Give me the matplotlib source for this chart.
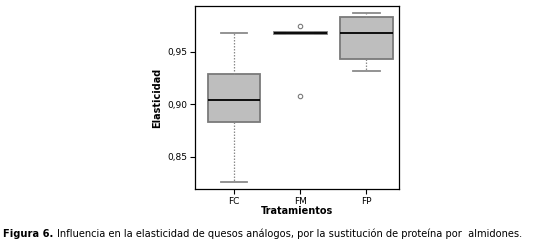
import matplotlib
matplotlib.use('Agg')
import matplotlib.pyplot as plt
from matplotlib.ticker import FuncFormatter

# Boxplot statistics
tratamientos = ['FC', 'FM', 'FP']
whis_low = [0.826, 0.967, 0.932]
q1 = [0.883, 0.967, 0.943]
median = [0.904, 0.968, 0.968]
q3 = [0.929, 0.969, 0.983]
whis_high = [0.968, 0.969, 0.987]
fliers = [[], [0.975, 0.908], []]

plt.rcParams['font.family'] = 'DejaVu Sans'

fig = plt.figure(figsize=(5.57, 2.48), dpi=100)
ax = fig.add_axes([0.350, 0.238, 0.366, 0.738])

stats = []
for i in range(len(tratamientos)):
    stats.append(dict(label=tratamientos[i], whislo=whis_low[i], q1=q1[i], med=median[i],
                      q3=q3[i], whishi=whis_high[i], fliers=fliers[i]))

ax.bxp(stats, positions=[1, 2, 3], widths=0.8, patch_artist=True,
       boxprops=dict(facecolor='#bebebe', edgecolor='#7a7a7a', linewidth=1.3),
       medianprops=dict(color='black', linewidth=1.3),
       whiskerprops=dict(color='#8a8a8a', linestyle=(0, (1.2, 1.2)), linewidth=0.9),
       capprops=dict(color='#8a8a8a', linewidth=1.3),
       capwidths=0.4,
       flierprops=dict(marker='o', markersize=3.2, markerfacecolor='none',
                       markeredgecolor='#7a7a7a', markeredgewidth=0.8))

ax.set_xlim(0.41, 3.49)
ax.set_ylim(0.8195, 0.9938)
ax.set_yticks([0.85, 0.90, 0.95])
ax.yaxis.set_major_formatter(FuncFormatter(lambda v, p: f'{v:.2f}'.replace('.', ',')))
ax.tick_params(axis='both', labelsize=6.5, length=3.5, width=0.8, pad=2)
for s in ax.spines.values():
    s.set_linewidth(0.9)

ax.set_ylabel('Elasticidad', fontsize=7, fontweight='bold', labelpad=4)
ax.set_xlabel('Tratamientos', fontsize=7, fontweight='bold', labelpad=0)

# caption: bold prefix followed by normal text
t1 = fig.text(0.006, 0.043, 'Figura 6.', fontsize=7.1, fontweight='bold', ha='left', va='baseline')
renderer = fig.canvas.get_renderer()
bb = t1.get_window_extent(renderer=renderer)
x2 = (bb.x1 + 3) / fig.bbox.width
fig.text(x2, 0.043, 'Influencia en la elasticidad de quesos análogos, por la sustitución de proteína por  almidones.',
         fontsize=7.1, ha='left', va='baseline')

plt.savefig('out.png', dpi=100)
